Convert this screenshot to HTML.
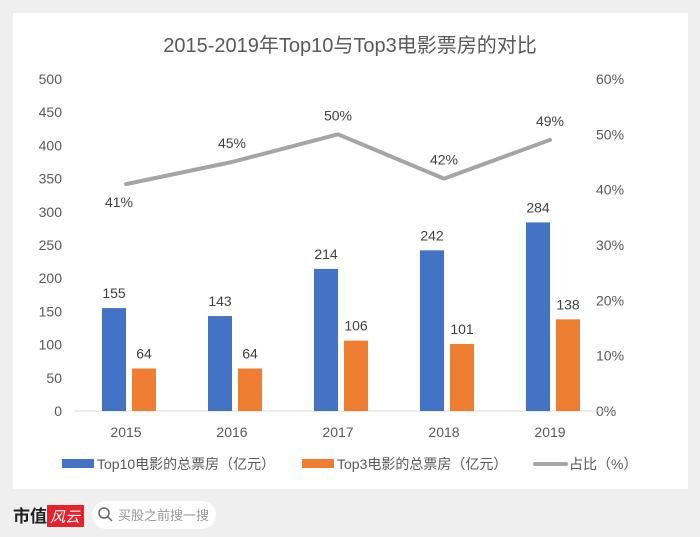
<!DOCTYPE html>
<html><head><meta charset="utf-8"><style>
body{margin:0;width:700px;height:537px;background:#efefef;font-family:"Liberation Sans","Noto Sans CJK SC",sans-serif;overflow:hidden;position:relative}
#card{position:absolute;left:13px;top:13px;width:675px;height:476px;background:#fff}
svg text{font-family:"Liberation Sans","Noto Sans CJK SC",sans-serif}
</style></head><body>
<div id="card"></div>
<svg id="chart" width="700" height="537" style="position:absolute;left:0;top:0">
<text x="350" y="52" text-anchor="middle" font-size="20" fill="#595959">2015-2019年Top10与Top3电影票房的对比</text>
<g id="g"></g>
<g>
<rect x="62" y="459" width="32" height="9" fill="#4472c4"/>
<text x="97" y="469" font-size="14" fill="#595959">Top10电影的总票房（亿元）</text>
<rect x="302" y="459" width="32" height="9" fill="#ed7d31"/>
<text x="337" y="469" font-size="14" fill="#595959">Top3电影的总票房（亿元）</text>
<line x1="535" y1="464" x2="566" y2="464" stroke="#a5a5a5" stroke-width="4" stroke-linecap="round"/>
<text x="569" y="469" font-size="14" fill="#595959">占比（%）</text>
</g>
<g>
<text x="13" y="522" font-size="17" font-weight="bold" fill="#222" font-family="Noto Serif CJK SC,serif">市值</text>
<rect x="47" y="505" width="37" height="22" fill="#e8212a"/>
<text x="50" y="522" font-size="15" fill="#fff" font-style="italic">风云</text>
</g>
<g>
<rect x="92" y="501" width="124" height="28" rx="14" fill="#fff"/>
<circle cx="104" cy="513" r="5" fill="none" stroke="#666" stroke-width="1.5"/>
<line x1="108" y1="517" x2="112" y2="521" stroke="#666" stroke-width="1.5"/>
<text x="118" y="520" font-size="13" fill="#999">买股之前搜一搜</text>
</g>
</svg>
<script>
const categories=["2015","2016","2017","2018","2019"];
const top10=[155,143,214,242,284];
const top3=[64,64,106,101,138];
const ratio=[41,45,50,42,49];
const leftTicks=[0,50,100,150,200,250,300,350,400,450,500];
const rightTicks=[0,10,20,30,40,50,60];
const NS="http://www.w3.org/2000/svg";
const g=document.getElementById('g');
const y0=411,y1=79;
const yL=v=>y0-(v/500)*(y0-y1);
const yR=v=>y0-(v/60)*(y0-y1);
const xC=i=>126+i*106;
function mk(t,a,txt){const e=document.createElementNS(NS,t);for(const k in a)e.setAttribute(k,a[k]);if(txt!=null)e.textContent=txt;g.appendChild(e);return e;}
leftTicks.forEach(v=>{const e=mk('text',{x:62,y:yL(v)+5,'text-anchor':'end','font-size':14,fill:'#595959'},v);

});
rightTicks.forEach(v=>{const e=mk('text',{x:596,y:yR(v)+5,'font-size':14,fill:'#595959'},v+'%');

});
const ax=mk('line',{x1:74,y1:y0,x2:604,y2:y0,stroke:'#d9d9d9','stroke-width':1});


categories.forEach((c,i)=>{
 const t=mk('text',{x:xC(i),y:437,'text-anchor':'middle','font-size':14,fill:'#595959'},c);
 
 
 const b=mk('rect',{x:xC(i)-24,y:yL(top10[i]),width:24,height:y0-yL(top10[i]),fill:'#4472c4'});
 
 
 const l1=mk('text',{x:xC(i)-12,y:yL(top10[i])-10,'text-anchor':'middle','font-size':14,fill:'#404040'},top10[i]);
 
 
 const o=mk('rect',{x:xC(i)+6,y:yL(top3[i]),width:24,height:y0-yL(top3[i]),fill:'#ed7d31'});
 
 
 const l2=mk('text',{x:xC(i)+18,y:yL(top3[i])-10,'text-anchor':'middle','font-size':14,fill:'#404040'},top3[i]);
 
 
});
const pl=mk('polyline',{points:ratio.map((v,i)=>xC(i)+','+yR(v)).join(' '),fill:'none',stroke:'#a5a5a5','stroke-width':4,'stroke-linejoin':'round','stroke-linecap':'round'});


const below=[true,false,false,false,false];
ratio.forEach((v,i)=>{
 const yy=below[i]?yR(v)+23:yR(v)-14;
 const xx=below[i]?xC(i)-7:xC(i);
 const t=mk('text',{x:xx,y:yy,'text-anchor':'middle','font-size':14,fill:'#404040'},v+'%');
 
 
});
</script>
</body></html>
